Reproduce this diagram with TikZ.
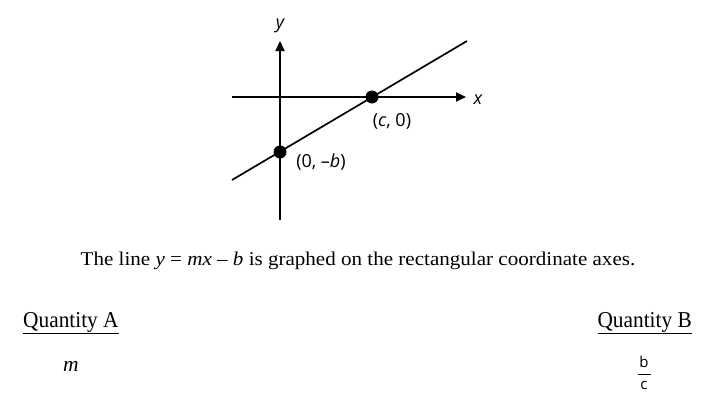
\documentclass[tikz,border=0pt]{standalone}
\usepackage{fontspec}
\usepackage{graphicx}
\setmainfont{Liberation Serif}
\newfontfamily\graphfont{Open Sans}
\usetikzlibrary{arrows.meta}
\begin{document}
\begin{tikzpicture}[
    x=1pt, y=-1pt,
    >={Triangle[length=10pt,width=9pt]},
    axis/.style={->, line width=1.7pt, draw=black},
    graphline/.style={line width=1.7pt, draw=black},
    dot/.style={circle, fill=black, inner sep=0pt, minimum size=13pt},
    graphlabel/.style={font=\graphfont\fontsize{18}{20}\selectfont},
    sentence/.style={font=\fontsize{19.5}{22}\selectfont, anchor=base, inner sep=0pt},
    quantity/.style={font=\fontsize{22.7}{26}\selectfont, anchor=base west, inner sep=0pt},
    fracpart/.style={font=\graphfont\fontsize{15}{16}\selectfont, inner sep=0pt, anchor=base},
]
\useasboundingbox (0,0) rectangle (727,407);

% ── Axes ─────────────────────────────────────────────────────
\coordinate (xstart) at (232,97);
\coordinate (xend)   at (466,97);
\coordinate (ystart) at (280,220);
\coordinate (yend)   at (280,41);
\draw[axis] (xstart) -- (xend);
\draw[axis] (ystart) -- (yend);
\node[graphlabel, anchor=west] (xlab) at (470,100) {\itshape x};
\node[graphlabel] (ylab) at (280,26) {\itshape y};

% ── Line and intercepts ──────────────────────────────────────
\coordinate (lstart) at (232,180);
\coordinate (lend)   at (467,41);
\draw[graphline] (lstart) -- (lend);
\node[dot] (cpt) at (372,97) {};
\node[dot] (bpt) at (280,152) {};
\node[graphlabel] (clab) at (392,121) {(\textit{c}, 0)};
\node[graphlabel] (blab) at (321,162) {(0, \textendash\textit{b})};

% ── Statement ────────────────────────────────────────────────
\node[sentence] (stmt) at (358,265)
    {\scalebox{1.08}[1]{The line \textit{y} = \textit{mx} \textendash\ \textit{b} is graphed on the rectangular coordinate axes.}};

% ── Quantities ───────────────────────────────────────────────
\node[quantity] (qa) at (23,327) {\underline{\scalebox{0.94}[1]{Quantity A}}};
\node[quantity, anchor=base east] (qb) at (692,327) {\underline{\scalebox{0.94}[1]{Quantity B}}};
\node[font=\fontsize{21.5}{24}\selectfont\itshape, anchor=base] (ma) at (71,371) {m};
\node[fracpart] (fb) at (644,367) {b};
\node[fracpart] (fc) at (644,389) {c};
\draw[line width=1pt] (638,374) -- (651,374);

\end{tikzpicture}
\end{document}
